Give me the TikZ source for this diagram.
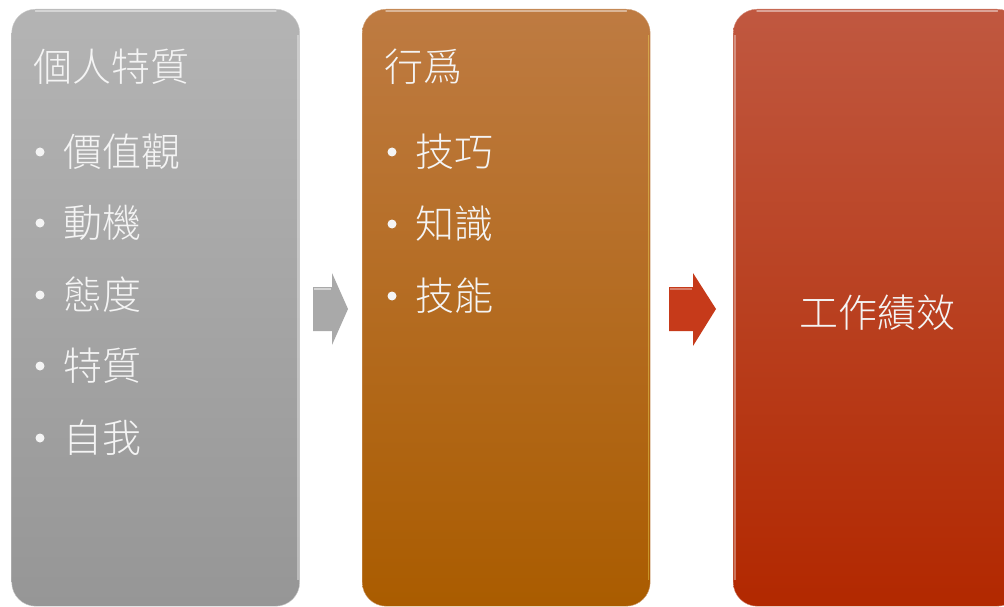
\documentclass[tikz,border=0pt]{standalone}
\usepackage{fontspec}
\newfontfamily\cjk{Noto Sans CJK TC}[UprightFont={* Light}]
\definecolor{gtop}{HTML}{B4B4B4}
\definecolor{gmid}{HTML}{A6A6A6}
\definecolor{gbot}{HTML}{969696}
\definecolor{otop}{HTML}{BE7B42}
\definecolor{omid}{HTML}{B86400}
\definecolor{obot}{HTML}{AA5C00}
\definecolor{rtop}{HTML}{C05840}
\definecolor{rmid}{HTML}{BE3000}
\definecolor{rbot}{HTML}{B22800}
\definecolor{txt}{HTML}{F4F4F4}
\definecolor{garrow}{HTML}{A9A9A9}
\definecolor{rarrow}{HTML}{C63A1A}
\tikzset{
  panel/.style={rounded corners=24pt, inner sep=0pt, minimum width=288pt, minimum height=597pt, anchor=north west},
  head/.style={anchor=west, text=txt, font=\cjk\fontsize{39}{39}\selectfont, inner sep=0pt},
  item/.style={anchor=west, text=txt, font=\cjk\fontsize{39}{39}\selectfont, inner sep=0pt},
  dot/.style={circle, fill=txt, inner sep=0pt, minimum size=9pt},
  rim/.style={white, opacity=0.45, line width=1.5pt, line cap=round},
  siderim/.style={white, opacity=0.35, line width=1.2pt},
}
\begin{document}
\begin{tikzpicture}[x=1pt,y=-1pt]
\useasboundingbox (0,0) rectangle (1004,607);
% panels
\node[panel, top color=gtop, middle color=gmid, bottom color=gbot, draw=gtop!70!white] (p1) at (11.5,9) {};
\node[panel, top color=otop, middle color=omid, bottom color=obot, draw=otop!70!white] (p2) at (362,9) {};
\node[panel, top color=rtop, middle color=rmid, bottom color=rbot, draw=rtop!70!white] (p3) at (733,9) {};
% top rims
\draw[rim] ([xshift=24pt,yshift=-2pt]p1.north west) -- ([xshift=-24pt,yshift=-2pt]p1.north east);
\draw[rim] ([xshift=24pt,yshift=-2pt]p2.north west) -- ([xshift=-24pt,yshift=-2pt]p2.north east);
\draw[rim] ([xshift=24pt,yshift=-2pt]p3.north west) -- ([xshift=-24pt,yshift=-2pt]p3.north east);
% side rims
\draw[siderim] ([xshift=-2pt,yshift=-26pt]p1.north east) -- ([xshift=-2pt,yshift=26pt]p1.south east);
\draw[siderim, yellow!60!white] ([xshift=-2pt,yshift=-26pt]p2.north east) -- ([xshift=-2pt,yshift=26pt]p2.south east);
\draw[siderim] ([xshift=2pt,yshift=-26pt]p3.north west) -- ([xshift=2pt,yshift=26pt]p3.south west);
% block arrows
\fill[garrow] (313,287) -- (332,287) -- (332,273) -- (348,309) -- (332,345) -- (332,331) -- (313,331) -- cycle;
\draw[white, opacity=0.5, line width=1.2pt] (314,289) -- (331,289);
\fill[rarrow] (669,287) -- (693,287) -- (693,273) -- (716,309) -- (693,346) -- (693,331) -- (669,331) -- cycle;
\draw[white, opacity=0.35, line width=1.2pt] (670,289) -- (692,289);
% panel 1 text
\node[head] (h1) at (33,67) {個人特質};
\node[dot] (d11) at (40,152) {};
\node[item] (t11) at (63,152) {價值觀};
\node[dot] (d12) at (40,223) {};
\node[item] (t12) at (63,223) {動機};
\node[dot] (d13) at (40,295) {};
\node[item] (t13) at (63,295) {態度};
\node[dot] (d14) at (40,366) {};
\node[item] (t14) at (63,366) {特質};
\node[dot] (d15) at (40,438) {};
\node[item] (t15) at (63,438) {自我};
% panel 2 text
\node[head] (h2) at (384,67) {行爲};
\node[dot] (d21) at (392,152) {};
\node[item] (t21) at (415,152) {技巧};
\node[dot] (d22) at (392,224) {};
\node[item] (t22) at (415,224) {知識};
\node[dot] (d23) at (392,296) {};
\node[item] (t23) at (415,296) {技能};
% panel 3 text
\node[text=txt, font=\cjk\fontsize{39}{39}\selectfont, inner sep=0pt] (h3) at (877,313) {工作績效};
\end{tikzpicture}
\end{document}
